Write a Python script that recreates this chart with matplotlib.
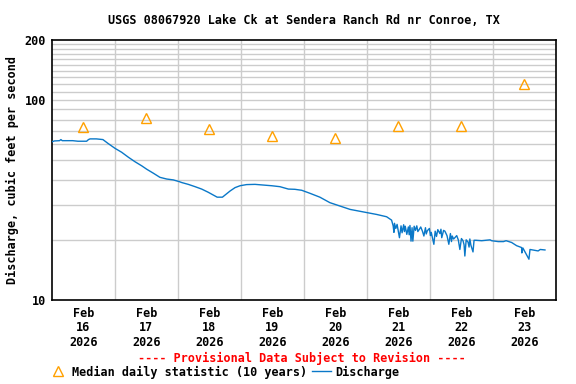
import matplotlib
matplotlib.use("Agg")
import matplotlib.pyplot as plt
from matplotlib.lines import Line2D
import matplotlib.ticker as mticker

# ---------------- data ----------------
title = "USGS 08067920 Lake Ck at Sendera Ranch Rd nr Conroe, TX"
ylabel = "Discharge, cubic feet per second"
day_labels = ["Feb\n16\n2026", "Feb\n17\n2026", "Feb\n18\n2026", "Feb\n19\n2026",
              "Feb\n20\n2026", "Feb\n21\n2026", "Feb\n22\n2026", "Feb\n23\n2026"]
# median daily statistic (plotted at noon of each day), hours since Feb 16 00:00
median_hours = [12, 36, 60, 84, 108, 132, 156, 180]
median_values = [73, 81, 72, 66.5, 65, 74, 74, 121]

# discharge, hours since Feb 16 00:00
q_hours = [0, 1, 3, 3.5, 4, 8, 10, 13.3, 14, 14.6, 17, 19.5, 21.4, 24.1, 26.6, 29.2,
           31.7, 34.3, 36.2, 38.7, 41.2, 43.8, 46.3, 48.6, 49.5, 52.0, 54.6, 57.1,
           59.6, 61.5, 63.0, 65.0, 66.0, 67.9, 69.8, 71.7, 74.2, 77.4, 80.6, 83.8,
           86.9, 90.1, 92.6, 95.2, 98.3, 102.1, 105.9, 109.8, 113.6, 117.4, 119.3,
           123.7, 127.5, 129.4,
           130.0, 130.3, 130.5, 131.0, 131.5, 132.0, 132.4, 133.0, 133.4, 134.0,
           134.3, 134.6, 135.2, 135.8, 136.1, 136.4, 136.8, 137.2, 137.5, 138.0,
           138.5, 139.0, 139.4, 140.0, 140.5, 141.2, 141.7, 142.3, 142.6, 143.0,
           143.8, 144.2, 144.5, 145.5, 146.0, 146.5, 147.0, 147.8, 148.2, 148.5,
           149.2, 149.7, 150.5, 151.2, 151.8, 152.2, 152.5, 153.0, 153.5, 154.2,
           154.8, 155.4, 156.0, 156.6, 157.0, 157.3, 157.8, 158.5, 158.9, 159.2,
           159.6, 160.4, 160.8, 161.5,
           163.7, 166.9, 167.5, 170.0, 172.0, 173.0, 175.1, 177.0, 178.9, 179.0,
           179.4, 181.7, 182.1, 185.2, 186.0, 187.8]
q_values = [61.8, 62.5, 62.7, 63.5, 62.7, 62.7, 62.3, 62.3, 63.5, 64.0, 64.0, 63.5,
            60.8, 57.4, 54.9, 51.8, 49.2, 46.9, 45.1, 43.1, 41.1, 40.3, 39.9, 39.1,
            38.7, 37.9, 36.9, 35.9, 34.6, 33.5, 32.7, 32.7, 33.5, 35.1, 36.5, 37.3,
            37.8, 37.9, 37.6, 37.3, 36.9, 35.9, 35.8, 35.4, 34.2, 32.7, 30.7, 29.5,
            28.4, 27.8, 27.5, 26.8, 26.1, 25.1,
            23.5, 21.8, 24.2, 22.8, 23.9, 21.9, 20.5, 23.5, 21.7, 23.8,
            22.0, 23.4, 21.3, 23.2, 21.2, 23.6, 19.7, 23.0, 19.7, 23.4,
            22.3, 23.5, 22.0, 22.6, 23.2, 22.0, 20.9, 23.0, 21.4, 22.2,
            22.8, 21.0, 21.8, 19.0, 22.1, 20.8, 22.5, 21.5, 22.6, 20.5,
            22.3, 22.1, 21.0, 19.0, 21.5, 19.6, 20.9, 20.2, 20.5, 21.0,
            20.0, 17.9, 20.3, 19.8, 18.9, 16.6, 20.0, 19.5, 18.4, 20.2,
            18.8, 17.4, 19.9, 19.9,
            19.8, 20.0, 19.8, 19.6, 19.6, 19.8, 19.4, 18.7, 18.3, 17.2,
            18.2, 16.0, 17.9, 17.6, 17.9, 17.8]

# ---------------- figure ----------------
W, H = 576, 384
fig = plt.figure(figsize=(W / 100, H / 100), dpi=100)
L, R, T, B = 51.7, 556, 40, 300
ax = fig.add_axes([L / W, 1 - B / H, (R - L) / W, (B - T) / H])

mono = "DejaVu Sans Mono"
fs = 8.45

ax.plot(q_hours, q_values, color="#0a78c8", lw=1.0, zorder=3, label="Discharge")
ax.plot(median_hours, median_values, linestyle="none", marker="^", markersize=7.5,
        markerfacecolor="none", markeredgecolor="#ffa000", markeredgewidth=1.0,
        zorder=4, label="Median daily statistic (10 years)")

ax.set_yscale("log")
ax.set_ylim(10, 200)
ax.set_xlim(0, 192)

ax.yaxis.set_major_locator(mticker.FixedLocator([10, 100, 200]))
ax.yaxis.set_major_formatter(mticker.FixedFormatter(["10", "100", "200"]))
minor_y = [20, 30, 40, 50, 60, 70, 80, 90, 110, 120, 130, 140, 150, 160, 170, 180, 190]
ax.yaxis.set_minor_locator(mticker.FixedLocator(minor_y))
ax.yaxis.set_minor_formatter(mticker.NullFormatter())

ax.xaxis.set_major_locator(mticker.FixedLocator(median_hours))
ax.xaxis.set_major_formatter(mticker.FixedFormatter(day_labels))
ax.xaxis.set_minor_locator(mticker.FixedLocator([24 * k for k in range(1, 8)]))

ax.grid(False)
for yv in [100] + minor_y:
    ax.axhline(yv, color="#cccccc", lw=1.0, zorder=1)
for xv in [24 * k for k in range(1, 8)]:
    ax.axvline(xv, color="#cccccc", lw=1.0, zorder=1)

ax.tick_params(axis="both", which="both", length=0)
ax.tick_params(axis="x", pad=5)
ax.tick_params(axis="y", pad=4)
for lab in ax.get_xticklabels():
    lab.set_fontfamily(mono)
    lab.set_fontweight("bold")
    lab.set_fontsize(fs)
    lab.set_linespacing(1.14)
for lab in ax.get_yticklabels():
    lab.set_fontfamily(mono)
    lab.set_fontweight("bold")
    lab.set_fontsize(fs)

for s in ax.spines.values():
    s.set_color("black")
    s.set_linewidth(1.2)

ax.set_ylabel(ylabel, fontfamily=mono, fontweight="bold", fontsize=fs)
ax.yaxis.set_label_coords(-33 / (R - L), 0.5)

fig.text((L + R) / 2 / W, 1 - 20 / H, title, ha="center", va="center",
         fontfamily=mono, fontweight="bold", fontsize=fs)

fig.text(302 / W, 1 - 358 / H, "---- Provisional Data Subject to Revision ----",
         ha="center", va="center", color="red", fontfamily=mono,
         fontweight="bold", fontsize=fs)

handles = [
    Line2D([], [], linestyle="none", marker="^", markersize=7.5, markerfacecolor="none",
           markeredgecolor="#ffa000", markeredgewidth=1.0),
    Line2D([], [], color="#0a78c8", lw=1.0),
]
leg = fig.legend(handles, ["Median daily statistic (10 years)", "Discharge"],
                 loc="center", bbox_to_anchor=(224 / W, 1 - 372 / H), ncol=2,
                 frameon=False, handlelength=1.6, handletextpad=0.4,
                 columnspacing=0.4, borderpad=0, borderaxespad=0,
                 prop={"family": mono, "weight": "bold", "size": fs})

fig.savefig("out.png", dpi=100, facecolor="white")
